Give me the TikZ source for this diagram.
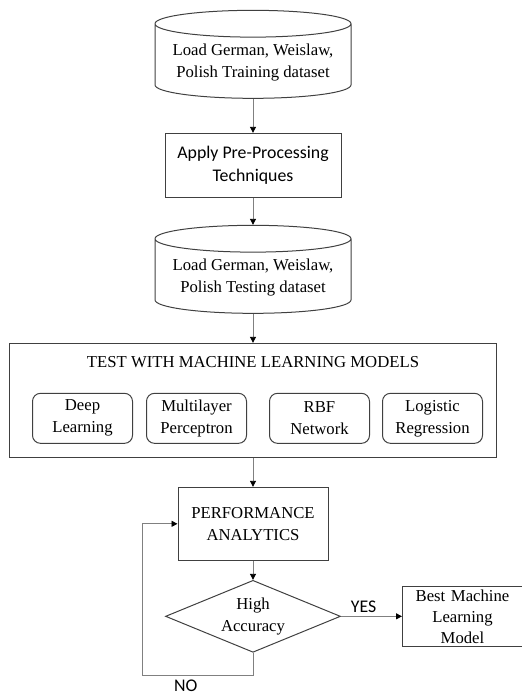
\documentclass[tikz,border=0pt]{standalone}
\usepackage{fontspec}
\setmainfont{Liberation Serif}
\newfontfamily\calibri{Carlito}
\usetikzlibrary{positioning,shapes.geometric,arrows.meta,calc}

\newcommand{\seriftext}{\fontsize{16.7}{22}\selectfont}
\newcommand{\sanstext}{\calibri\fontsize{17.8}{23}\selectfont}

\begin{document}
\begin{tikzpicture}[
				datastore/.style={cylinder, shape border rotate=90, draw=black!75, line width=1pt, aspect=0.16, minimum width=196pt, minimum height=88pt, align=center, font=\seriftext},
				stepbox/.style={rectangle, draw=black!75, line width=1pt, align=center},
				model/.style={rectangle, rounded corners=8pt, draw=black!75, line width=1pt, minimum width=100pt, minimum height=50pt, inner sep=0pt, align=center, font=\seriftext},
				decision/.style={diamond, draw=black!75, line width=1pt, aspect=2.4, minimum width=175pt, minimum height=72pt, inner sep=0pt, align=center, font=\seriftext},
				flow/.style={draw=black!50, line width=0.9pt, -{Triangle[length=6pt, width=6pt, color=black]}},
				answer/.style={font=\sanstext}
			]
			\useasboundingbox (0,0) rectangle (522pt,-697pt);
			\node[datastore] (trainload) at (253pt,-63pt) {Load German, Weislaw,\\Polish Training dataset};
			\node[stepbox, minimum width=176pt, minimum height=64pt, font=\sanstext] (preproc) [below=34pt of trainload] {Apply Pre-Processing\\Techniques};
			\node[datastore] (testload) [below=27pt of preproc] {Load German, Weislaw,\\Polish Testing dataset};
			\node[stepbox, minimum width=487pt, minimum height=114pt] (test) [below=29pt of testload] {};
			\node[font=\seriftext, inner sep=0pt] (testtitle) [below=13pt of test.north] {TEST WITH MACHINE LEARNING MODELS};
			\node[model] (deep) [above right=14pt and 23pt of test.south west] {Deep\\Learning};
			\node[model] (mlp) [right=13pt of deep] {Multilayer\\Perceptron};
			\node[model] (rbf) [right=22pt of mlp] {RBF\\Network};
			\node[model] (logistic) [right=12pt of rbf] {Logistic\\Regression};
			\node[stepbox, minimum width=150pt, minimum height=73pt, font=\seriftext] (perf) [below=29pt of test] {PERFORMANCE\\ANALYTICS};
			\node[decision] (accuracy) [below=19pt of perf] {High\\Accuracy};
			\node[stepbox, minimum width=120pt, minimum height=60pt, text width=120pt, inner sep=0pt, font=\fontsize{16.7}{21}\selectfont] (best) [right=61pt of accuracy] {Best Machine\\Learning\\Model};
			\coordinate (nocorner) at ($(accuracy.south)+(-111pt,-23pt)$);
			\node[answer, inner sep=0pt] (nolabel) [below right=4pt and 32pt of nocorner] {NO};
			\draw[flow] (trainload.south) -- (preproc.north);
			\draw[flow] (preproc.south) -- (testload.north);
			\draw[flow] (testload.south) -- (test.north);
			\draw[flow] (test.south) -- (perf.north);
			\draw[flow] (perf.south) -- (accuracy.north);
			\draw[flow] (accuracy.east) -- (best.west) node[answer, pos=0.37, above] {YES};
			\draw[flow] (accuracy.south) |- (nocorner) |- (perf.west);
			\end{tikzpicture}
\end{document}
